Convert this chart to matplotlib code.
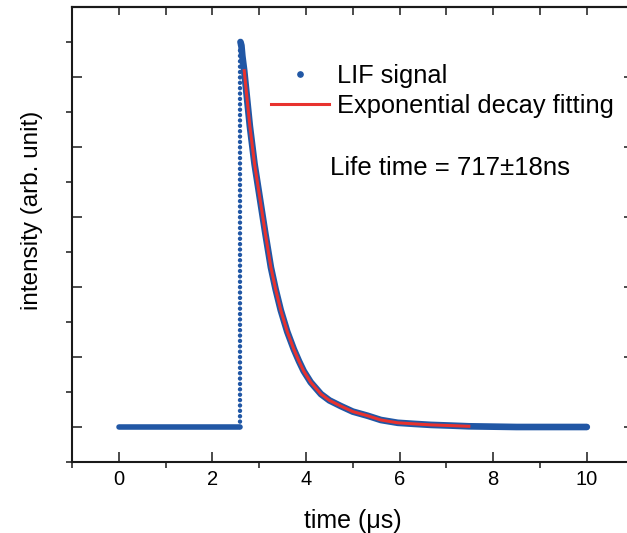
import matplotlib.pyplot as plt
from matplotlib.lines import Line2D
from matplotlib.ticker import MultipleLocator, NullFormatter

plt.rcParams['font.family'] = ['Liberation Sans', 'DejaVu Sans']

# LIF signal (time in us, intensity in arb. unit)
pre_t = [0.0, 0.5, 1.0, 1.5, 2.0, 2.5, 2.60]
pre_v = [0.0, 0.0, 0.0, 0.0, 0.0, 0.0, 0.0]
rise_t = [2.60, 2.60]
rise_v = [0.0, 5.50]
decay_t = [2.60, 2.62, 2.64, 2.68, 2.80, 2.90, 3.03, 3.13, 3.25, 3.35, 3.46,
           3.60, 3.74, 3.85, 3.95, 4.10, 4.32, 4.50, 4.74, 5.00, 5.32, 5.60,
           5.96, 6.30, 6.67, 7.10, 7.48, 8.5, 10.0]
decay_v = [5.50, 5.45, 5.30, 5.09, 4.30, 3.76, 3.20, 2.77, 2.28, 1.97, 1.67,
           1.36, 1.11, 0.94, 0.80, 0.64, 0.47, 0.38, 0.30, 0.22, 0.16, 0.10,
           0.06, 0.045, 0.03, 0.02, 0.01, 0.0, 0.0]

# exponential decay fit
fit_t = [2.68, 2.80, 2.90, 3.03, 3.13, 3.25, 3.35, 3.46, 3.60, 3.74, 3.85,
         3.95, 4.10, 4.32, 4.50, 4.74, 5.00, 5.32, 5.60, 5.96, 6.30, 6.67,
         7.10, 7.48]
fit_v = [5.09, 4.30, 3.76, 3.20, 2.77, 2.28, 1.97, 1.67, 1.36, 1.11, 0.94,
         0.80, 0.64, 0.47, 0.38, 0.30, 0.22, 0.16, 0.10, 0.06, 0.045, 0.03,
         0.02, 0.01]

blue = '#2157a5'
red = '#e8322e'
dark = '#1a1a1a'

fig = plt.figure(figsize=(6.27, 5.33), dpi=100)
ax = fig.add_axes([72 / 627, 71 / 533, 561.6 / 627, 455 / 533])

ax.plot(pre_t, pre_v, '-', color=blue, lw=4.0, solid_capstyle='round')
ax.plot(rise_t, rise_v, color=blue, lw=3.2, linestyle=(0, (0.01, 1.2)),
        dash_capstyle='round')
ax.plot(decay_t, decay_v, '-', color=blue, lw=4.8, solid_capstyle='round',
        solid_joinstyle='round')
ax.plot(fit_t, fit_v, '-', color=red, lw=2.2, solid_joinstyle='round')

ax.set_xlim(-1, 11)
ax.set_ylim(-0.5, 6)

for s in ax.spines.values():
    s.set_linewidth(1.5)
    s.set_color(dark)

ax.xaxis.set_major_locator(MultipleLocator(2))
ax.xaxis.set_minor_locator(MultipleLocator(1))
ax.yaxis.set_major_locator(MultipleLocator(1))
ax.yaxis.set_minor_locator(MultipleLocator(0.5))
ax.yaxis.set_major_formatter(NullFormatter())
ax.tick_params(which='major', direction='in', length=7, width=1.1, color=dark,
               top=False, right=False, labelsize=14.5, pad=6)
ax.tick_params(which='minor', direction='out', length=4, width=1.1, color=dark,
               top=False, right=False)

top = ax.secondary_xaxis('top')
top.xaxis.set_major_locator(MultipleLocator(1))
top.tick_params(direction='in', length=6, width=1.1, color=dark, labeltop=False)
top.spines['top'].set_linewidth(1.5)

right = ax.secondary_yaxis('right')
right.yaxis.set_major_locator(MultipleLocator(1))
right.tick_params(direction='in', length=7, width=1.1, color=dark, labelright=False)
right.spines['right'].set_linewidth(1.5)

ax.set_xlabel('time (μs)', fontsize=18, labelpad=14)
ax.set_ylabel('intensity (arb. unit)', fontsize=17.5)
ax.yaxis.set_label_coords(-0.052, 0.552)

handles = [Line2D([], [], ls='none', marker='o', ms=3.8, color=blue),
           Line2D([], [], color=red, lw=2.2)]
ax.legend(handles, ['LIF signal', 'Exponential decay fitting'],
          loc='upper left', bbox_to_anchor=(0.313, 0.926), frameon=False,
          fontsize=18.3, handlelength=2.3, handletextpad=0.32,
          labelspacing=0.26, borderpad=0.4)

ax.text(0.459, 0.646, 'Life time = 717±18ns', transform=ax.transAxes,
        fontsize=18.5, va='center', ha='left')

fig.savefig('out.png', dpi=100)
